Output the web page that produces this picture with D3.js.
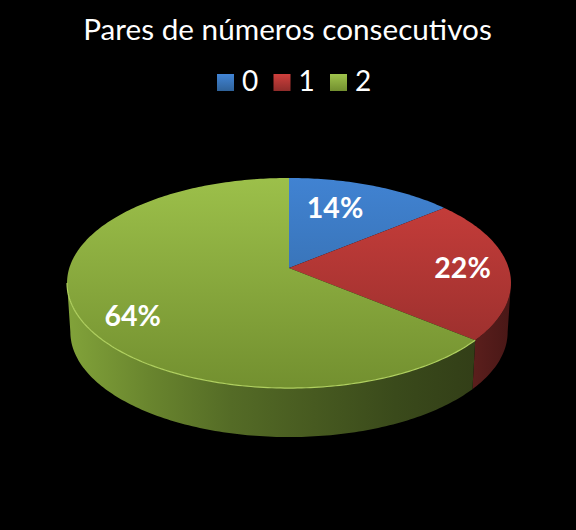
<!DOCTYPE html>
<html>
<head>
<meta charset="utf-8">
<script src="https://cdn.jsdelivr.net/npm/d3@7"></script>
<style>
html, body { margin: 0; padding: 0; background: #000; }
svg { display: block; }
text { font-family: Lato, "Open Sans", sans-serif; fill: #fff; }
</style>
</head>
<body>
<svg id="svg"></svg>
<script>
const title = "Pares de números consecutivos";
const categories = ["0", "1", "2"];
const percents = [14, 22, 64];

const topColors = [["#4285d6", "#2f6299"], ["#d0403d", "#8f2c2a"], ["#9fc34c", "#728f2f"]];
const sideColors = [
    ["#2a5688", "#1c3a5c"],
    ["#5a1e1c", "#481716"],
    ["#82a33a", "#69852e", "#546b26", "#475a20", "#3a4a1b", "#323e17"],
];

const width = 576;
const height = 530;

// where the disc sits on the page
const cx = 289;
const cy = 268;
const radiusX = 219.7;
const radiusY = 102.9;
const tilt = 1 / 7;
const depth = 49;
const bottomShrink = 0.985;

// the wall only shows between the two widest points of the disc
const wallStart = Math.acos(-tilt);
const wallEnd = 2 * Math.PI - wallStart;

const svg = d3.select("#svg").attr("width", width).attr("height", height);
const defs = svg.append("defs");

svg.append("rect").attr("width", width).attr("height", height).attr("fill", "#000");

// circle -> page, nearer part of the disc is drawn larger
const project = function(angle, r, lower) {
    const u = r * Math.sin(angle);
    const v = r * Math.cos(angle);
    const w = 1 + tilt * v;
    const s = lower ? bottomShrink : 1;
    return [cx + s * radiusX * u / w, cy - radiusY * v / w + (lower ? depth : 0)];
};

const pie = d3.pie().sort(null);
const slices = pie(percents);
const line = d3.line();

const arcPoints = function(a0, a1, lower) {
    const n = Math.ceil((a1 - a0) * 60);
    return d3.range(n + 1).map(i => project(a0 + (a1 - a0) * i / n, 1, lower));
};

const wallPath = function(d) {
    const a0 = Math.max(d.startAngle, wallStart);
    const a1 = Math.min(d.endAngle, wallEnd);
    if (a1 <= a0) return null;
    return line(arcPoints(a0, a1, false).concat(arcPoints(a0, a1, true).reverse())) + "Z";
};

slices.forEach((d, i) => {
    const topGrad = defs.append("linearGradient")
        .attr("id", "top" + i)
        .attr("gradientUnits", "userSpaceOnUse")
        .attr("x1", 0).attr("x2", 0)
        .attr("y1", cy - radiusY - 2).attr("y2", cy + radiusY * 1.2);
    topGrad.append("stop").attr("offset", 0).attr("stop-color", topColors[i][0]);
    topGrad.append("stop").attr("offset", 1).attr("stop-color", topColors[i][1]);

    const sideGrad = defs.append("linearGradient")
        .attr("id", "side" + i)
        .attr("gradientUnits", "userSpaceOnUse")
        .attr("y1", 0).attr("y2", 0);
    if (i === 2) {
        sideGrad.attr("x1", 67).attr("x2", 478);
    } else {
        sideGrad.attr("x1", 475).attr("x2", 512);
    }
    sideColors[i].forEach((c, j) => {
        sideGrad.append("stop")
            .attr("offset", j / (sideColors[i].length - 1))
            .attr("stop-color", c);
    });
});

// outer wall first, then the top
svg.append("g").selectAll("path")
    .data(slices)
    .join("path")
    .attr("d", wallPath)
    .attr("fill", (d, i) => "url(#side" + i + ")");

svg.append("g").selectAll("path")
    .data(slices)
    .join("path")
    .attr("d", d => line([[cx, cy]].concat(arcPoints(d.startAngle, d.endAngle, false))) + "Z")
    .attr("fill", (d, i) => "url(#top" + i + ")");

// thin lit edge along the front of the green slice
svg.append("path")
    .attr("d", line(arcPoints(slices[2].startAngle, wallEnd, false)))
    .attr("fill", "none")
    .attr("stroke", "#b0d060")
    .attr("stroke-width", 1.2);

// labels
const labelRadius = [0.7, 0.79, 0.75];
const labelNudge = [[-14, 0], [0, 0], [0, 14]];

svg.append("g").selectAll("text")
    .data(slices)
    .join("text")
    .attr("x", (d, i) => project((d.startAngle + d.endAngle) / 2, labelRadius[i], false)[0] + labelNudge[i][0])
    .attr("y", (d, i) => project((d.startAngle + d.endAngle) / 2, labelRadius[i], false)[1] + labelNudge[i][1] + 10)
    .attr("text-anchor", "middle")
    .attr("font-size", 28.5)
    .attr("font-weight", 700)
    .text(d => d.value + "%");

// title
svg.append("text")
    .attr("x", 287.5)
    .attr("y", 40)
    .attr("text-anchor", "middle")
    .attr("font-size", 29.7)
    .text(title);

// legend
const legendX = d3.scalePoint().domain(categories).range([217, 330]);
const legend = svg.append("g").selectAll("g")
    .data(categories)
    .join("g")
    .attr("transform", d => "translate(" + legendX(d) + ",74)");

categories.forEach((c, i) => {
    const g = defs.append("linearGradient")
        .attr("id", "swatch" + i)
        .attr("x1", 0).attr("x2", 0).attr("y1", 0).attr("y2", 1);
    g.append("stop").attr("offset", 0).attr("stop-color", topColors[i][0]);
    g.append("stop").attr("offset", 1).attr("stop-color", topColors[i][1]);
});

legend.append("rect")
    .attr("width", 17)
    .attr("height", 17)
    .attr("fill", (d, i) => "url(#swatch" + i + ")");

legend.append("text")
    .attr("x", 25)
    .attr("y", 17)
    .attr("font-size", 28)
    .text(d => d);
</script>
</body>
</html>
